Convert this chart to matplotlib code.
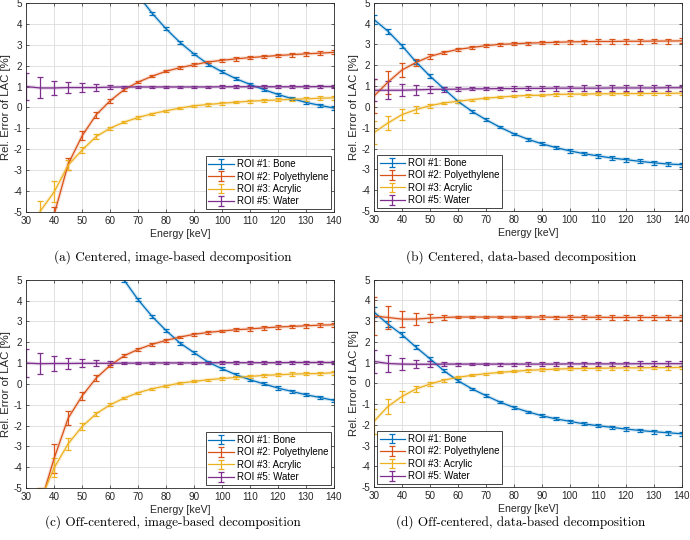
import matplotlib
matplotlib.use("Agg")
import matplotlib.pyplot as plt

plt.rcParams['font.family'] = ['Liberation Sans', 'DejaVu Sans']
plt.rcParams['axes.unicode_minus'] = False

# Energy grid [keV]
energy = [30, 35, 40, 45, 50, 55, 60, 65, 70, 75, 80, 85, 90, 95, 100,
          105, 110, 115, 120, 125, 130, 135, 140]

roi_labels = ['ROI #1: Bone', 'ROI #2: Polyethylene', 'ROI #3: Acrylic', 'ROI #5: Water']
roi_colors = ['#0072BD', '#D95319', '#EDB120', '#7E2F8E']

captions = ['(a) Centered, image-based decomposition',
            '(b) Centered, data-based decomposition',
            '(c) Off-centered, image-based decomposition',
            '(d) Off-centered, data-based decomposition']

# (a) centered, image-based
bone_a = [21.5, 18.0, 15.0, 12.5, 10.5, 8.9, 7.5, 6.35, 5.35, 4.5, 3.75, 3.1, 2.55, 2.07, 1.7,
          1.37, 1.1, 0.85, 0.62, 0.42, 0.24, 0.1, -0.03]
poly_a = [-14.0, -9.0, -5.1, -2.7, -1.35, -0.35, 0.32, 0.85, 1.21, 1.49, 1.73, 1.9, 2.04, 2.17, 2.25,
          2.32, 2.38, 2.43, 2.48, 2.52, 2.56, 2.59, 2.63]
acryl_a = [-7.0, -4.95, -4.03, -2.75, -2.03, -1.39, -0.99, -0.7, -0.48, -0.3, -0.16, -0.03, 0.08, 0.14, 0.2,
           0.25, 0.3, 0.33, 0.36, 0.39, 0.41, 0.44, 0.46]
water_a = [1.0, 0.93, 0.93, 0.95, 0.95, 0.95, 0.97, 0.98, 0.98, 0.98, 0.98, 0.98, 0.98, 0.98, 0.99,
           0.99, 0.99, 0.99, 0.99, 0.99, 0.99, 1.0, 1.0]
bone_a_err = [0.15, 0.15, 0.12, 0.12, 0.1, 0.1, 0.1, 0.08, 0.08, 0.07, 0.07, 0.07, 0.07, 0.07, 0.07,
              0.07, 0.07, 0.07, 0.07, 0.07, 0.07, 0.08, 0.08]
poly_a_err = [0.8, 0.5, 0.35, 0.28, 0.22, 0.15, 0.1, 0.07, 0.06, 0.06, 0.06, 0.06, 0.07, 0.07, 0.07,
              0.08, 0.08, 0.08, 0.09, 0.09, 0.1, 0.1, 0.1]
acryl_a_err = [0.7, 0.5, 0.5, 0.25, 0.15, 0.1, 0.07, 0.06, 0.05, 0.05, 0.05, 0.05, 0.05, 0.06, 0.06,
               0.06, 0.07, 0.07, 0.07, 0.08, 0.08, 0.09, 0.09]
water_a_err = [0.65, 0.5, 0.35, 0.28, 0.2, 0.15, 0.1, 0.06, 0.05, 0.05, 0.05, 0.05, 0.05, 0.05, 0.06,
               0.06, 0.06, 0.07, 0.07, 0.07, 0.07, 0.07, 0.07]

# (b) centered, data-based
bone_b = [4.19, 3.63, 2.94, 2.16, 1.48, 0.87, 0.27, -0.21, -0.61, -0.97, -1.29, -1.55, -1.77, -1.95, -2.11,
          -2.24, -2.35, -2.45, -2.53, -2.61, -2.68, -2.74, -2.77]
poly_b = [0.52, 1.19, 1.77, 2.13, 2.42, 2.61, 2.76, 2.85, 2.94, 3.0, 3.03, 3.06, 3.08, 3.1, 3.12,
          3.13, 3.14, 3.14, 3.15, 3.15, 3.16, 3.16, 3.17]
acryl_b = [-1.23, -0.77, -0.37, -0.13, 0.06, 0.19, 0.27, 0.35, 0.42, 0.47, 0.52, 0.55, 0.56, 0.6, 0.61,
           0.62, 0.63, 0.63, 0.64, 0.64, 0.65, 0.65, 0.66]
water_b = [0.8, 0.8, 0.8, 0.82, 0.84, 0.85, 0.85, 0.87, 0.87, 0.88, 0.88, 0.89, 0.89, 0.9, 0.9,
           0.9, 0.9, 0.91, 0.91, 0.91, 0.91, 0.92, 0.92]
bone_b_err = [0.2, 0.12, 0.1, 0.1, 0.08, 0.07, 0.06, 0.06, 0.06, 0.06, 0.06, 0.07, 0.07, 0.07, 0.08,
              0.08, 0.08, 0.08, 0.09, 0.09, 0.09, 0.1, 0.1]
poly_b_err = [0.8, 0.55, 0.32, 0.18, 0.12, 0.08, 0.06, 0.06, 0.06, 0.06, 0.07, 0.07, 0.08, 0.08, 0.09,
              0.1, 0.1, 0.1, 0.11, 0.11, 0.11, 0.12, 0.12]
acryl_b_err = [0.55, 0.35, 0.25, 0.17, 0.1, 0.07, 0.06, 0.05, 0.05, 0.05, 0.06, 0.06, 0.06, 0.07, 0.07,
               0.07, 0.08, 0.08, 0.08, 0.08, 0.09, 0.09, 0.09]
water_b_err = [0.52, 0.42, 0.3, 0.25, 0.17, 0.12, 0.1, 0.08, 0.08, 0.09, 0.1, 0.1, 0.11, 0.12, 0.12,
               0.13, 0.13, 0.13, 0.14, 0.14, 0.14, 0.14, 0.15]

# (c) off-centered, image-based
bone_c = [19.5, 16.2, 13.4, 11.1, 9.2, 7.6, 6.2, 4.98, 4.04, 3.24, 2.56, 1.96, 1.5, 1.05, 0.73,
          0.44, 0.2, 0.0, -0.2, -0.36, -0.52, -0.65, -0.79]
poly_c = [-10.0, -5.8, -3.56, -1.64, -0.57, 0.28, 0.89, 1.35, 1.66, 1.9, 2.09, 2.25, 2.38, 2.47, 2.54,
          2.6, 2.64, 2.69, 2.73, 2.76, 2.79, 2.82, 2.84]
acryl_c = [-8.0, -5.6, -4.02, -2.87, -2.04, -1.43, -1.0, -0.68, -0.42, -0.23, -0.09, 0.04, 0.12, 0.2, 0.26,
           0.31, 0.36, 0.41, 0.44, 0.47, 0.49, 0.5, 0.54]
water_c = [1.0, 0.97, 0.98, 0.98, 0.99, 0.99, 0.99, 1.0, 1.0, 1.01, 1.01, 1.01, 1.01, 1.02, 1.02,
           1.02, 1.02, 1.02, 1.02, 1.03, 1.03, 1.03, 1.03]
bone_c_err = [0.15, 0.15, 0.12, 0.1, 0.1, 0.09, 0.08, 0.07, 0.07, 0.07, 0.07, 0.07, 0.07, 0.07, 0.07,
              0.07, 0.07, 0.07, 0.08, 0.08, 0.08, 0.08, 0.09]
poly_c_err = [1.0, 0.8, 0.7, 0.32, 0.2, 0.14, 0.1, 0.07, 0.06, 0.06, 0.06, 0.06, 0.07, 0.07, 0.07,
              0.08, 0.08, 0.08, 0.09, 0.09, 0.1, 0.1, 0.1]
acryl_c_err = [0.8, 0.6, 0.45, 0.3, 0.15, 0.1, 0.07, 0.06, 0.05, 0.05, 0.05, 0.05, 0.05, 0.06, 0.06,
               0.06, 0.07, 0.07, 0.07, 0.08, 0.08, 0.08, 0.09]
water_c_err = [0.68, 0.5, 0.35, 0.28, 0.2, 0.15, 0.1, 0.06, 0.05, 0.05, 0.05, 0.05, 0.05, 0.05, 0.06,
               0.06, 0.06, 0.07, 0.07, 0.07, 0.07, 0.07, 0.07]

# (d) off-centered, data-based
bone_d = [3.44, 2.86, 2.35, 1.75, 1.19, 0.61, 0.13, -0.26, -0.59, -0.9, -1.16, -1.37, -1.56, -1.71, -1.83,
          -1.95, -2.04, -2.12, -2.2, -2.27, -2.33, -2.38, -2.43]
poly_d = [3.25, 3.18, 3.1, 3.1, 3.15, 3.18, 3.2, 3.2, 3.2, 3.2, 3.2, 3.2, 3.2, 3.19, 3.19,
          3.19, 3.19, 3.18, 3.18, 3.18, 3.18, 3.18, 3.18]
acryl_d = [-1.83, -1.11, -0.63, -0.27, -0.03, 0.16, 0.29, 0.39, 0.47, 0.53, 0.58, 0.63, 0.66, 0.69, 0.71,
           0.72, 0.73, 0.74, 0.75, 0.75, 0.76, 0.76, 0.77]
water_d = [1.06, 0.96, 0.93, 0.92, 0.92, 0.93, 0.93, 0.93, 0.93, 0.93, 0.93, 0.93, 0.93, 0.93, 0.94,
           0.94, 0.94, 0.94, 0.94, 0.95, 0.95, 0.95, 0.95]
bone_d_err = [0.25, 0.15, 0.12, 0.1, 0.09, 0.08, 0.07, 0.06, 0.06, 0.06, 0.06, 0.06, 0.07, 0.07, 0.07,
              0.08, 0.08, 0.08, 0.08, 0.09, 0.09, 0.09, 0.1]
poly_d_err = [0.9, 0.55, 0.38, 0.28, 0.18, 0.1, 0.07, 0.06, 0.06, 0.06, 0.07, 0.07, 0.08, 0.08, 0.09,
              0.1, 0.1, 0.1, 0.11, 0.11, 0.11, 0.12, 0.12]
acryl_d_err = [0.6, 0.38, 0.25, 0.15, 0.1, 0.07, 0.05, 0.05, 0.05, 0.05, 0.05, 0.06, 0.06, 0.06, 0.07,
               0.07, 0.07, 0.08, 0.08, 0.08, 0.08, 0.09, 0.09]
water_d_err = [0.55, 0.4, 0.3, 0.2, 0.15, 0.1, 0.07, 0.06, 0.06, 0.07, 0.07, 0.08, 0.08, 0.09, 0.09,
               0.1, 0.1, 0.1, 0.11, 0.11, 0.11, 0.11, 0.12]

panels = [
    ([bone_a, poly_a, acryl_a, water_a], [bone_a_err, poly_a_err, acryl_a_err, water_a_err], 'lower right'),
    ([bone_b, poly_b, acryl_b, water_b], [bone_b_err, poly_b_err, acryl_b_err, water_b_err], 'lower left'),
    ([bone_c, poly_c, acryl_c, water_c], [bone_c_err, poly_c_err, acryl_c_err, water_c_err], 'lower right'),
    ([bone_d, poly_d, acryl_d, water_d], [bone_d_err, poly_d_err, acryl_d_err, water_d_err], 'lower left'),
]

# axes rectangles in figure fraction
rects = [[0.038, 0.607, 0.446, 0.388],
         [0.542, 0.609, 0.446, 0.386],
         [0.038, 0.096, 0.446, 0.386],
         [0.542, 0.098, 0.446, 0.384]]
caption_y = [0.523, 0.523, 0.033, 0.033]

fig = plt.figure(figsize=(6.9, 5.4), dpi=100)

for k, (series, errs, loc) in enumerate(panels):
    ax = fig.add_axes(rects[k])
    for vals, err, lab, col in zip(series, errs, roi_labels, roi_colors):
        # faint halo under each curve
        ax.plot(energy, vals, color=col, lw=2.6, alpha=0.18, solid_capstyle='round')
        ax.errorbar(energy, vals, yerr=err, color=col, lw=0.9, elinewidth=0.9,
                    capsize=2.2, capthick=0.9, label=lab)
    ax.set_xlim(30, 140)
    ax.set_ylim(-5, 5)
    ax.set_xticks(range(30, 141, 10))
    ax.set_yticks(range(-5, 6))
    ax.grid(True, color='#dcdcdc', lw=0.6)
    ax.set_axisbelow(True)
    ax.tick_params(direction='in', length=2.5, width=0.5, labelsize=7.1,
                   top=True, right=True, colors='#262626')
    ax.tick_params(axis='y', pad=3)
    ax.tick_params(axis='x', pad=3)
    for s in ax.spines.values():
        s.set_color('#262626')
        s.set_linewidth(0.6)
    ax.set_xlabel('Energy [keV]', fontsize=7.6, labelpad=2, color='#262626')
    ax.set_ylabel('Rel. Error of LAC [%]', fontsize=8.2, color='#262626')
    ax.yaxis.set_label_coords(-0.05, 0.5)
    leg = ax.legend(loc=loc, fontsize=7, frameon=True, fancybox=False, framealpha=1,
                    edgecolor='#262626', borderaxespad=0.3, handlelength=2.6,
                    handletextpad=0.3, borderpad=0.3, labelspacing=0.25)
    leg.get_frame().set_linewidth(0.6)
    fig.text(rects[k][0] + rects[k][2] / 2 - 0.01, caption_y[k], captions[k],
             ha='center', va='center', fontsize=9.5, family='cmr10')

fig.savefig('out.png', dpi=100)
